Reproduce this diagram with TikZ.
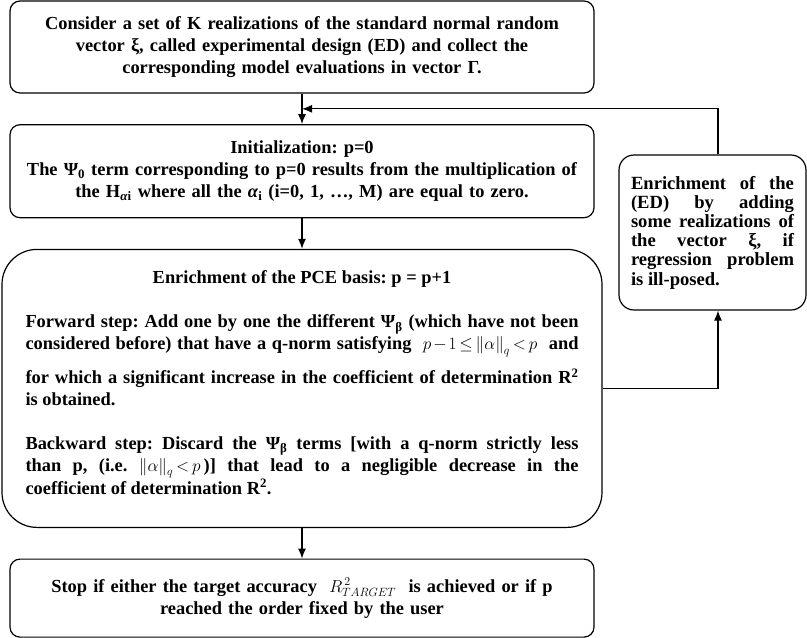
\documentclass[tikz,border=0pt]{standalone}
\usepackage{fontspec}
\setmainfont{Liberation Serif}
\frenchspacing
\medmuskip=2mu\relax
\thickmuskip=3mu\relax
\usetikzlibrary{positioning,arrows.meta,calc}

\begin{document}
\begin{tikzpicture}[x=1pt,y=-1pt,line width=1.2pt,>={Latex[length=10pt,width=8pt]},every node/.style={draw,rounded corners=10pt,align=center,inner ysep=0pt,font=\fontsize{18.4}{22}\selectfont\bfseries},node distance=30.5pt]
\useasboundingbox (0,0) rectangle (807,638);
\node[text width=566pt,inner xsep=9pt,minimum height=92pt] (ed) at (302,47) {Consider a set of K realizations of the standard normal random\\ vector ξ, called experimental design (ED) and collect the\\ corresponding model evaluations in vector Γ.\\[3pt]};
\node[text width=566pt,inner xsep=9pt,minimum height=93pt,below=of ed] (init) {Initialization: p=0\\ The Ψ\textsubscript{0} term corresponding to p=0 results from the multiplication of\\ the H\textsubscript{\textit{α}i} where all the \textit{α}\textsubscript{i} (i=0, 1, …, M) are equal to zero.};
\node[text width=553pt,inner xsep=23.5pt,minimum height=278pt,rounded corners=35pt,align=justify,below=of init,font=\fontsize{18.4}{21.5}\selectfont\bfseries] (pce) {{\centering Enrichment of the PCE basis: p = p+1\par}\vspace{23pt}
Forward step: Add one by one the different Ψ\textsubscript{β} (which have not been\linebreak considered before) that have a q-norm satisfying \ $p-1\le\Bigl\|\alpha\Bigr\|_q<p$ \ and\vadjust{\vskip 11pt}\linebreak for which a significant increase in the coefficient of determination R\textsuperscript{2}\linebreak is obtained.\par\vspace{23pt}
Backward step: Discard the Ψ\textsubscript{β} terms [with a q-norm strictly less\linebreak than p, (i.e. $\Bigl\|\alpha\Bigr\|_q<p$\,)] that lead to a negligible decrease in the\linebreak coefficient of determination R\textsuperscript{2}.\par\nointerlineskip\kern12pt\hbox{}};
\node[text width=566pt,inner xsep=9pt,minimum height=78pt,below=of pce] (stop) {Stop if either the target accuracy \ $R^{\,2}_{TARGET}$ \ is achieved or if p\\ reached the order fixed by the user};
\node[text width=163pt,inner xsep=12pt,minimum height=155pt,rounded corners=15pt,align=justify,font=\fontsize{18.6}{19.2}\selectfont\bfseries] (enrich) at (712.5,232.5) {Enrichment of the\linebreak (ED) by adding\linebreak some realizations of\linebreak the vector ξ, if\linebreak regression problem\linebreak is ill-posed.};
\coordinate (join) at ($(ed.south)!0.5!(init.north)$);
\draw[->] (ed) -- (init);
\draw[->] (init) -- (pce);
\draw[->] (pce) -- (stop);
\draw[->] (pce.east) -| ([xshift=5.5pt]enrich.south);
\draw[->] ([xshift=5.5pt]enrich.north) |- (join);
\end{tikzpicture}
\end{document}
